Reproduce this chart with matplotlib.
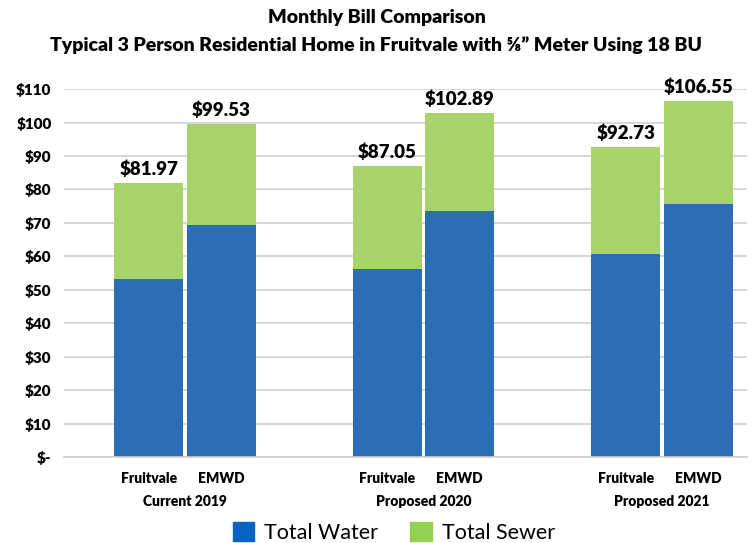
import numpy as np
import matplotlib
matplotlib.use("Agg")
import matplotlib.pyplot as plt
from matplotlib.patches import Patch

plt.rcParams['font.family'] = ['Lato', 'DejaVu Sans']

groups = ['Current 2019', 'Proposed 2020', 'Proposed 2021']
providers = ['Fruitvale', 'EMWD']
water = {'Fruitvale': [53.2, 56.2, 60.7], 'EMWD': [69.4, 73.5, 75.6]}
total = {'Fruitvale': [81.97, 87.05, 92.73], 'EMWD': [99.53, 102.89, 106.55]}
yticks = np.arange(0, 111, 10)

blue = '#2B6EB4'
green = '#A8D26C'

fig = plt.figure(figsize=(7.53, 5.43), dpi=100)
ax = fig.add_axes([0.085, 0.158, 0.907, 0.678])

x = np.arange(len(groups))
w = 0.29
off = [-0.152, 0.152]

for i, p in enumerate(providers):
    wv = np.array(water[p])
    tv = np.array(total[p])
    pos = x + off[i]
    ax.bar(pos, wv, w, color=blue, zorder=2)
    ax.bar(pos, tv - wv, w, bottom=wv, color=green, zorder=2)
    for xp, t in zip(pos, tv):
        ax.text(xp, t + 1.5, f'${t:.2f}', ha='center', va='bottom',
                fontsize=13.5, fontweight='heavy')

ax.set_xlim(-0.507, 2.356)
ax.set_ylim(0, 110)
ax.set_yticks(yticks)
ax.set_yticklabels(['$-'] + [f'${v}' for v in yticks[1:]], fontsize=11, fontweight='heavy')
ax.yaxis.grid(True, color='#D0D0D0', linewidth=1.2, zorder=0)
ax.tick_params(axis='y', length=0, pad=9)
ax.tick_params(axis='x', length=0)
ax.set_xticks([])
for s in ['top', 'right', 'left']:
    ax.spines[s].set_visible(False)
ax.spines['bottom'].set_color('#D0D0D0')
ax.spines['bottom'].set_linewidth(1.2)

for g in x:
    for i, p in enumerate(providers):
        ax.text(g + off[i], -6.3, p, ha='center', va='center', fontsize=10,
                fontweight='heavy')
    ax.text(g, -13.3, groups[g], ha='center', va='center', fontsize=10,
            fontweight='heavy')

fig.text(0.5, 0.967, 'Monthly Bill Comparison', ha='center', va='center',
         fontsize=14, fontweight='heavy')
fig.text(0.5, 0.916, 'Typical 3 Person Residential Home in Fruitvale with \u215d\u201d Meter Using 18 BU',
         ha='center', va='center', fontsize=14, fontweight='heavy')

handles = [Patch(color='#0563C1', label='Total Water'), Patch(color='#92D050', label='Total Sewer')]
fig.legend(handles=handles, loc='center', bbox_to_anchor=(0.523, 0.02), ncol=2,
           frameon=False, fontsize=15.5, handlelength=1.0, handleheight=1.0,
           columnspacing=1.5, handletextpad=0.45)

fig.savefig('out.png', dpi=100)
